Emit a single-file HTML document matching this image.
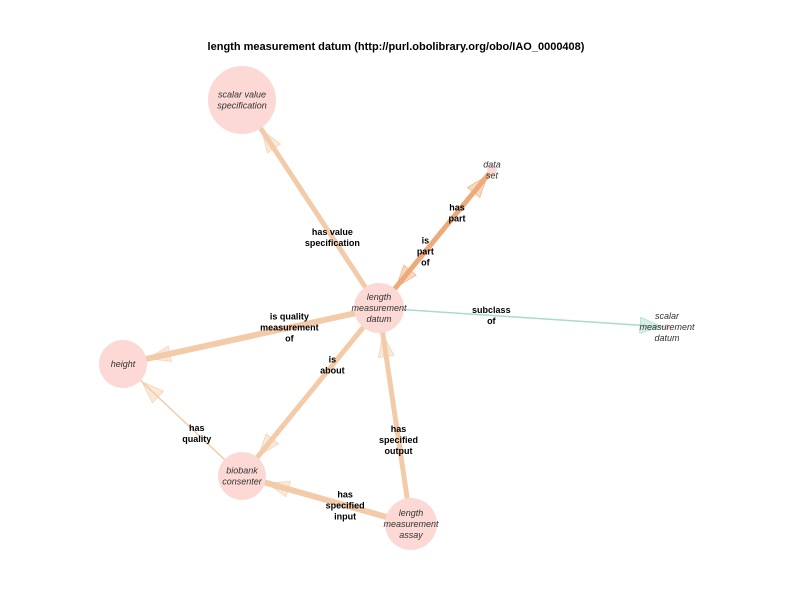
<!DOCTYPE html>
<html><head><meta charset="utf-8"><style>
body{margin:0;background:#fff}
svg{display:block;font-family:"Liberation Sans",sans-serif}
.lbl{font-size:9px;font-weight:bold;fill:#000;text-anchor:middle}
.nl{font-size:9px;font-style:italic;fill:#333;text-anchor:middle}
</style></head><body>
<svg id="chart" width="792" height="612">
<text x="396" y="50" text-anchor="middle" font-size="11" font-weight="bold">length measurement datum (http://purl.obolibrary.org/obo/IAO_0000408)</text>
<g id="edges"></g><g id="nodes"></g><g id="labels"></g>
</svg>
<script>
const nodeNames=["lmd","svs","dataset","smd","height","biobank","assay"];
const nodeX=[379,242,492,667,123,242,411];
const nodeY=[308,100,170,327,364,476,524];
const nodeR=[25,34,5,3,24,24,26];
const nodeText=[["length","measurement","datum"],["scalar value","specification"],["data","set"],["scalar","measurement","datum"],["height"],["biobank","consenter"],["length","measurement","assay"]];
const edgeFrom=[0,0,2,0,0,0,6,6,5];
const edgeTo=[1,2,0,3,4,5,0,5,4];
const edgeW=[5,5,3,1.5,6,5,5,6,1.5];
const edgeColor=["#f4cba8","#eeaa78","#eeaa78","#a8dcc8","#f4cba8","#f4cba8","#f4cba8","#f4cba8","#f4cba8"];
const edgeLabel=[["has value","specification"],["is","part","of"],["has","part"],["subclass","of"],["is quality","measurement","of"],["is","about"],["has","specified","output"],["has","specified","input"],["has","quality"]];
const labelPos=[0.34,0.41,0.31,0.39,0.35,0.34,0.39,0.39,0.38];
const NS="http://www.w3.org/2000/svg";
const eg=document.getElementById('edges'),ng=document.getElementById('nodes'),lg=document.getElementById('labels');
function mk(t,a,p){const e=document.createElementNS(NS,t);for(const k in a)e.setAttribute(k,a[k]);p.appendChild(e);return e;}
for(let i=0;i<edgeFrom.length;i++){
 const a=edgeFrom[i],b=edgeTo[i];
 const x1=nodeX[a],y1=nodeY[a],x2=nodeX[b],y2=nodeY[b];
 const dx=x2-x1,dy=y2-y1,L=Math.hypot(dx,dy),ux=dx/L,uy=dy/L;
 const l=mk('line',{x1:x1,y1:y1,x2:x2-ux*nodeR[b]*0.8,y2:y2-uy*nodeR[b]*0.8,stroke:edgeColor[i],'stroke-width':edgeW[i]},eg);
 
 
 const tx=x2-ux*(nodeR[b]+2),ty=y2-uy*(nodeR[b]+2),bx=tx-ux*22,by=ty-uy*22,px=-uy*8,py=ux*8;
 const h=mk('polygon',{points:`${tx},${ty} ${bx+px},${by+py} ${bx-px},${by-py}`,fill:edgeColor[i],'fill-opacity':0.45,stroke:edgeColor[i],'stroke-width':0.6},eg);
 
 
 const lx=x1+dx*labelPos[i],ly=y1+dy*labelPos[i],n=edgeLabel[i].length;
 const t=mk('text',{class:'lbl',x:lx,y:ly-(n-1)*5.5+3},lg);
 
 
 edgeLabel[i].forEach((s,k)=>{const ts=mk('tspan',{x:lx,dy:k?11:0},t);ts.textContent=s;});
}
for(let i=0;i<nodeNames.length;i++){
 const c=mk('circle',{cx:nodeX[i],cy:nodeY[i],r:nodeR[i],fill:'#fcd9d5'},ng);
 
 
 const n=nodeText[i].length;
 const t=mk('text',{class:'nl',x:nodeX[i],y:nodeY[i]-(n-1)*5.5+3},ng);
 
 
 nodeText[i].forEach((s,k)=>{const ts=mk('tspan',{x:nodeX[i],dy:k?11:0},t);ts.textContent=s;});
}
</script>
</body></html>
